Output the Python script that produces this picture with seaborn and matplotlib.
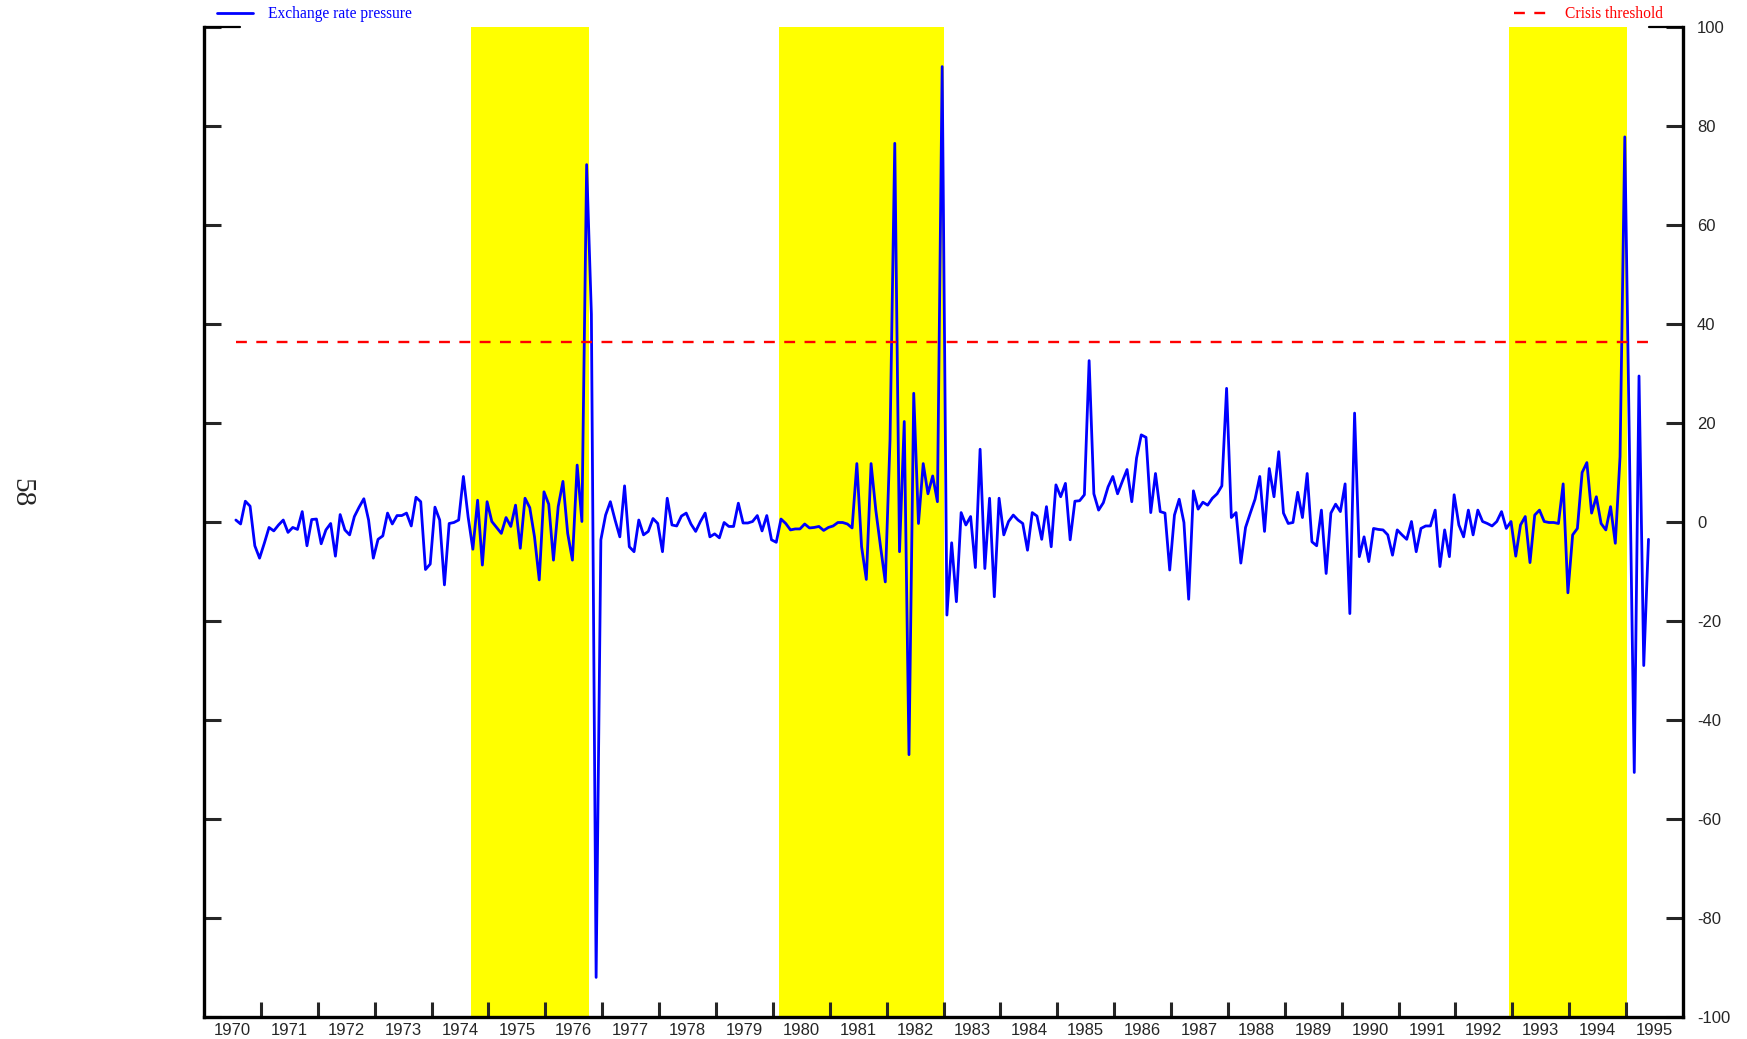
import numpy as np
import pandas as pd
import matplotlib
matplotlib.use("Agg")
import matplotlib.pyplot as plt
import seaborn as sns

# Monthly exchange rate pressure index, starting early 1970
pressure = [
    0.4, -0.4, 4.2, 3.2, -4.8, -7.3, -4.3, -1.1, -1.8, -0.6,
    0.4, -2.1, -1.1, -1.5, 2.1, -4.8, 0.5, 0.6, -4.4, -1.6,
    -0.3, -6.9, 1.5, -1.6, -2.6, 1.1, 3.0, 4.7, 0.4, -7.3,
    -3.5, -2.8, 1.8, -0.4, 1.3, 1.3, 1.8, -0.8, 5.0, 4.1,
    -9.6, -8.5, 3.0, 0.4, -12.7, -0.3, -0.1, 0.4, 9.2, 1.0,
    -5.5, 4.4, -8.7, 4.1, 0.1, -1.1, -2.3, 0.9, -0.9, 3.4,
    -5.3, 4.8, 2.9, -3.0, -11.7, 6.1, 3.6, -7.7, 3.1, 8.2,
    -2.3, -7.7, 11.5, 0.1, 72.2, 42.0, -92.0, -3.6, 1.4, 4.1,
    0.4, -3.0, 7.3, -5.0, -6.0, 0.4, -2.6, -1.9, 0.7, -0.3,
    -6.0, 4.8, -0.6, -0.8, 1.2, 1.8, -0.4, -1.9, 0.1, 1.8,
    -3.0, -2.4, -3.2, -0.1, -0.9, -0.9, 3.8, -0.2, -0.2, 0.1,
    1.3, -1.8, 1.3, -3.6, -4.1, 0.6, -0.3, -1.6, -1.4, -1.4,
    -0.4, -1.2, -1.1, -0.9, -1.7, -1.1, -0.8, -0.1, -0.1, -0.4,
    -1.2, 11.8, -5.0, -11.6, 11.8, 2.4, -5.0, -12.1, 16.6, 76.5,
    -6.0, 20.3, -47.0, 26.0, -0.3, 11.8, 5.7, 9.3, 4.1, 92.0,
    -18.8, -4.2, -16.1, 1.9, -0.6, 1.1, -9.2, 14.7, -9.4, 4.8,
    -15.1, 4.8, -2.6, 0.1, 1.4, 0.4, -0.3, -5.7, 1.9, 1.2,
    -3.5, 3.1, -5.0, 7.5, 5.1, 7.8, -3.6, 4.2, 4.3, 5.5,
    32.6, 5.7, 2.4, 3.9, 7.1, 9.2, 5.7, 8.2, 10.6, 4.1,
    12.9, 17.6, 17.1, 1.9, 9.8, 2.1, 1.8, -9.7, 1.4, 4.6,
    -0.1, -15.6, 6.3, 2.6, 4.0, 3.4, 4.8, 5.7, 7.3, 27.0,
    0.9, 1.9, -8.3, -1.1, 1.8, 4.6, 9.2, -1.9, 10.8, 5.1,
    14.2, 1.8, -0.3, -0.1, 6.0, 0.9, 9.8, -4.0, -4.8, 2.4,
    -10.4, 1.8, 3.6, 2.1, 7.7, -18.5, 22.0, -7.0, -3.0, -8.0,
    -1.3, -1.5, -1.6, -2.6, -6.7, -1.6, -2.6, -3.5, 0.1, -6.0,
    -1.3, -0.8, -0.8, 2.4, -9.0, -1.6, -7.0, 5.5, -0.6, -3.0,
    2.4, -2.6, 2.4, 0.1, -0.3, -0.8, 0.1, 2.1, -1.3, 0.1,
    -6.9, -0.6, 1.1, -8.2, 1.4, 2.4, 0.1, -0.1, -0.1, -0.3,
    7.7, -14.3, -2.6, -1.3, 10.0, 12.0, 1.8, 5.1, -0.3, -1.6,
    3.1, -4.3, 13.2, 77.8, 14.0, -50.6, 29.5, -29.0, -3.5,
]
threshold = 36.3

# Shaded pre-crisis windows (start, end) in decimal years
crisis_windows = [(1974.2, 1976.26), (1979.61, 1982.51), (1992.44, 1994.51)]

years = list(range(1970, 1996))
y_ticks = list(range(-100, 101, 20))

dates = 1970.06 + np.arange(len(pressure)) / 12
df = pd.DataFrame({"date": dates, "pressure": pressure})
df["threshold"] = threshold

sns.set_style("white")
plt.rcParams["font.family"] = ["Liberation Sans", "DejaVu Sans"]
plt.rcParams["axes.unicode_minus"] = False

W, H = 1747, 1039
fig = plt.figure(figsize=(W / 100, H / 100), dpi=100)
ax = fig.add_axes([204 / W, 1 - 1017 / H, (1683 - 204) / W, (1017 - 27) / H])

for start, end in crisis_windows:
    ax.axvspan(start, end, color="#ffff00", lw=0, zorder=0)

sns.lineplot(data=df, x="date", y="pressure", color="#0000ff", lw=2.0,
             ax=ax, label="Exchange rate pressure")
sns.lineplot(data=df, x="date", y="threshold", color="#ff0000", lw=1.7,
             ls=(0, (4.6, 4.0)), ax=ax, label="Crisis threshold")

handles, labels = ax.get_legend_handles_labels()
ax.get_legend().remove()
serif = {"family": ["Liberation Serif", "DejaVu Serif"], "size": 11.2}
fig.legend([handles[0]], [labels[0]], loc="center left",
           bbox_to_anchor=(217 / W, 1 - 14 / H), frameon=False,
           borderpad=0, borderaxespad=0, handlelength=2.3,
           handletextpad=1.0, prop=serif, labelcolor="#0000ff")
fig.legend([handles[1]], [labels[1]], loc="center right",
           bbox_to_anchor=(1663 / W, 1 - 14 / H), frameon=False,
           borderpad=0, borderaxespad=0, handlelength=2.1,
           handletextpad=1.2, prop=serif, labelcolor="#ff0000")

ax.set_xlim(1969.5, 1995.5)
ax.set_xticks(years)
ax.set_xticklabels([str(y) for y in years])
ax.set_xticks([y + 0.5 for y in years[:-1]], minor=True)
ax.tick_params(axis="x", which="major", length=0, labelsize=12, pad=4)
ax.tick_params(axis="x", which="minor", direction="in", length=11, width=2.2,
               bottom=True)

ax.set_ylim(-100, 100)
ax.set_yticks(y_ticks)
ax.tick_params(axis="y", direction="in", length=12, width=2.2, left=True,
               right=True, labelleft=False, labelright=True, labelsize=12,
               pad=10)

for side in ["left", "right", "bottom"]:
    ax.spines[side].set_linewidth(2.4)
    ax.spines[side].set_color("black")
ax.spines["top"].set_visible(False)
ax.set_xlabel("")
ax.set_ylabel("")

# short stubs of the top frame at both corners
ax.plot([0, 36 / 1479], [1, 1], transform=ax.transAxes, color="black",
        lw=1.6, clip_on=False)
ax.plot([1 - 34 / 1479, 1], [1, 1], transform=ax.transAxes, color="black",
        lw=1.6, clip_on=False)

fig.text(0.012, 1 - 493 / H, "58", rotation=-90, fontsize=21,
         family=["Liberation Serif", "DejaVu Serif"], ha="center", va="center")

fig.savefig("out.png", dpi=100)
